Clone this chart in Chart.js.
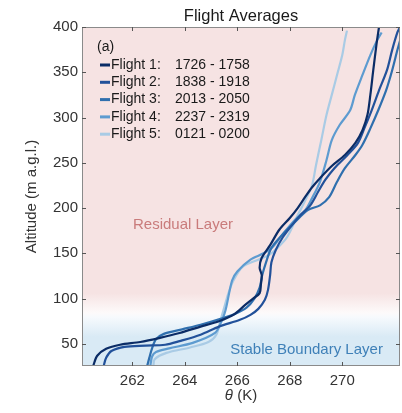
<!DOCTYPE html>
<html>
<head>
<meta charset="utf-8">
<script src="https://cdn.jsdelivr.net/npm/chart.js@4"></script>
<style>
  html, body { margin: 0; padding: 0; background: #fff; }
  #wrap { width: 402px; height: 413px; }
</style>
</head>
<body>
<div id="wrap"><canvas id="c" width="402" height="413"></canvas></div>
<script>
// flight profiles: potential temperature (K) against altitude (m a.g.l.)
const flight1Theta = [260.5, 260.66, 261.0, 261.53, 262.3, 263.05, 263.8, 264.6, 265.3, 265.9, 266.3, 266.6, 266.85, 266.9, 266.93, 266.85, 266.93, 267.25, 267.6, 268.0, 268.3, 268.58, 268.85, 269.15, 269.6, 270.1, 270.5, 270.77, 270.96, 271.07, 271.18, 271.3, 271.4];
const flight1Alt   = [25, 36.8, 44.5, 49, 52, 56.6, 62, 69, 75, 83, 93, 100, 106, 116, 126, 134, 145, 159, 176, 189, 200, 212, 223, 233, 246.5, 258.6, 272, 286, 303, 325, 352, 380, 400];

const flight2Theta = [260.9, 261.0, 261.2, 261.7, 262.5, 263.25, 263.8, 264.6, 265.3, 266.1, 266.5, 266.8, 267.05, 267.17, 267.25, 267.3, 267.47, 267.74, 268.08, 268.4, 268.78, 269.08, 269.35, 269.7, 270.2, 270.6, 270.86, 271.12, 271.4, 271.7, 271.9, 272.1, 272.2];
const flight2Alt   = [25, 34.5, 42, 46.7, 48, 49, 53, 60, 69, 76.5, 82, 88.6, 98.6, 109.6, 126, 140, 154, 168, 181, 192, 203, 218, 231, 244, 258.6, 272, 289.5, 308, 330, 352, 374.5, 394, 400];

const flight3Theta = [262.56, 262.65, 262.75, 262.9, 263.2, 263.9, 264.6, 265.3, 265.9, 266.35, 266.65, 266.85, 266.95, 267.1, 267.3, 267.7, 268.2, 268.7, 269.15, 269.5, 269.8, 270.1, 270.5, 270.77, 271.07, 271.37, 271.67, 271.9, 272.1, 272.25];
const flight3Alt   = [25, 35, 45, 55, 61, 66, 71, 77, 83, 90, 100, 112, 126, 140.5, 156, 170, 184.7, 198, 203, 212, 229, 244, 258.6, 270, 288, 308, 330, 352, 374.5, 390];

const flight4Theta = [262.68, 262.75, 262.9, 263.4, 264.3, 265.15, 265.4, 265.55, 265.8, 266.0, 266.5, 267.0, 267.35, 267.7, 268.2, 268.6, 268.85, 269.15, 269.4, 269.6, 269.9, 270.3, 270.48, 270.77, 271.07, 271.33, 271.5];
const flight4Alt   = [25, 36, 41, 45, 51, 62, 75, 87, 120, 130, 143, 150, 157, 170, 187, 198, 211, 229, 253, 275, 291.7, 308, 325, 347, 369, 385.5, 394];

const flight5Theta = [262.8, 262.85, 263.3, 264.2, 264.9, 265.2, 265.35, 265.5, 265.65, 265.85, 266.2, 266.8, 267.2, 267.5, 267.9, 268.3, 268.6, 268.85, 269.0, 269.2, 269.4, 269.6, 269.8, 270.0, 270.1, 270.18];
const flight5Alt   = [25, 33, 40, 46, 52, 60, 75, 90, 105, 120, 135, 143, 148, 155, 168, 192, 209, 225.5, 247.6, 275, 303, 325, 347, 369, 385.5, 396];

const flightNames = ['Flight 1:', 'Flight 2:', 'Flight 3:', 'Flight 4:', 'Flight 5:'];
const flightTimes = ['1726 - 1758', '1838 - 1918', '2013 - 2050', '2237 - 2319', '0121 - 0200'];
const flightColors = ['#0b2c66', '#22519a', '#2f6fae', '#5d9bd0', '#a9cbe5'];

const xTicks = [262, 264, 266, 268, 270];
const yTicks = [50, 100, 150, 200, 250, 300, 350, 400];

const thetaSets = [flight1Theta, flight2Theta, flight3Theta, flight4Theta, flight5Theta];
const altSets = [flight1Alt, flight2Alt, flight3Alt, flight4Alt, flight5Alt];

const FONT = '"Liberation Sans", Arial, Helvetica, sans-serif';

function pairUp(th, alt) {
  return th.map((t, i) => ({ x: t, y: alt[i] }));
}

// shaded layers behind the profiles
const layerBackground = {
  id: 'layerBackground',
  beforeDraw(chart) {
    const { ctx, chartArea: a, scales: { y } } = chart;
    const g = ctx.createLinearGradient(0, y.getPixelForValue(106), 0, y.getPixelForValue(58));
    g.addColorStop(0, '#f6e3e3');
    g.addColorStop(0.45, '#fdfafa');
    g.addColorStop(0.55, '#f7fafd');
    g.addColorStop(1, '#d9eaf5');
    ctx.save();
    ctx.fillStyle = g;
    ctx.fillRect(a.left, a.top, a.right - a.left, a.bottom - a.top);
    ctx.restore();
  }
};

// box, inside ticks, titles, labels, legend
const decorations = {
  id: 'decorations',
  afterDraw(chart) {
    const { ctx, chartArea: a, scales: { x, y } } = chart;
    ctx.save();
    ctx.strokeStyle = '#8a8a8a';
    ctx.lineWidth = 1;
    ctx.strokeRect(a.left + 0.5, a.top + 0.5, a.right - a.left - 1, a.bottom - a.top - 1);

    ctx.strokeStyle = '#555';
    ctx.beginPath();
    xTicks.forEach(v => {
      const px = Math.round(x.getPixelForValue(v)) + 0.5;
      ctx.moveTo(px, a.bottom); ctx.lineTo(px, a.bottom - 4);
      ctx.moveTo(px, a.top); ctx.lineTo(px, a.top + 4);
    });
    yTicks.forEach(v => {
      const py = Math.round(y.getPixelForValue(v)) + 0.5;
      ctx.moveTo(a.left, py); ctx.lineTo(a.left + 4, py);
      ctx.moveTo(a.right, py); ctx.lineTo(a.right - 4, py);
    });
    ctx.stroke();

    // title
    ctx.fillStyle = '#1a1a1a';
    ctx.textAlign = 'center';
    ctx.textBaseline = 'middle';
    ctx.font = '16.5px ' + FONT;
    ctx.fillText('Flight Averages', (a.left + a.right) / 2, 16);

    // axis titles
    ctx.font = '15px ' + FONT;
    ctx.fillStyle = '#333';
    ctx.save();
    ctx.translate(32, (a.top + a.bottom) / 2);
    ctx.rotate(-Math.PI / 2);
    ctx.fillText('Altitude (m a.g.l.)', 0, 0);
    ctx.restore();

    const cx = (a.left + a.right) / 2;
    ctx.textAlign = 'left';
    ctx.font = 'italic 15px ' + FONT;
    const thW = ctx.measureText('\u03b8').width;
    ctx.font = '15px ' + FONT;
    const kW = ctx.measureText(' (K)').width;
    const sx = cx - (thW + kW) / 2;
    ctx.font = 'italic 15px ' + FONT;
    ctx.fillText('\u03b8', sx, 396);
    ctx.font = '15px ' + FONT;
    ctx.fillText(' (K)', sx + thW, 396);

    // layer labels
    ctx.textAlign = 'center';
    ctx.font = '15px ' + FONT;
    ctx.fillStyle = '#c97b7b';
    ctx.fillText('Residual Layer', x.getPixelForValue(263.93), y.getPixelForValue(181));
    ctx.fillStyle = '#3f80b8';
    ctx.fillText('Stable Boundary Layer', x.getPixelForValue(268.64), y.getPixelForValue(43));

    // legend
    ctx.textAlign = 'left';
    ctx.fillStyle = '#1a1a1a';
    ctx.font = '14px ' + FONT;
    ctx.fillText('(a)', a.left + 15, 47);
    flightNames.forEach((name, i) => {
      const ly = 65 + i * 17.3;
      ctx.strokeStyle = flightColors[i];
      ctx.lineWidth = 3;
      ctx.beginPath();
      ctx.moveTo(a.left + 18, ly);
      ctx.lineTo(a.left + 28, ly);
      ctx.stroke();
      ctx.fillText(name, a.left + 29, ly);
      ctx.fillText(flightTimes[i], a.left + 93, ly);
    });
    ctx.restore();
  }
};

new Chart(document.getElementById('c'), {
  type: 'line',
  data: {
    datasets: thetaSets.map((th, i) => ({
      label: flightNames[i] + ' ' + flightTimes[i],
      data: pairUp(th, altSets[i]),
      borderColor: flightColors[i],
      backgroundColor: flightColors[i],
      borderWidth: 2.2,
      pointRadius: 0,
      tension: 0.3,
      fill: false
    }))
  },
  options: {
    responsive: false,
    animation: false,
    layout: { padding: { left: 0, right: 2, top: 27, bottom: 0 } },
    plugins: {
      legend: { display: false },
      tooltip: { enabled: false }
    },
    scales: {
      x: {
        type: 'linear',
        min: 260.08,
        max: 272.2,
        grid: { display: false, drawTicks: false },
        border: { display: false },
        afterBuildTicks(scale) { scale.ticks = xTicks.map(v => ({ value: v })); },
        afterFit(scale) { scale.height = 47; },
        ticks: { color: '#333', padding: 6, font: { size: 15, family: FONT }, maxRotation: 0 }
      },
      y: {
        type: 'linear',
        min: 25.5,
        max: 400,
        grid: { display: false, drawTicks: false },
        border: { display: false },
        afterBuildTicks(scale) { scale.ticks = yTicks.map(v => ({ value: v })); },
        afterFit(scale) { scale.width = 82; },
        ticks: { color: '#333', padding: 4, font: { size: 15, family: FONT } }
      }
    }
  },
  plugins: [layerBackground, decorations]
});
</script>
</body>
</html>
